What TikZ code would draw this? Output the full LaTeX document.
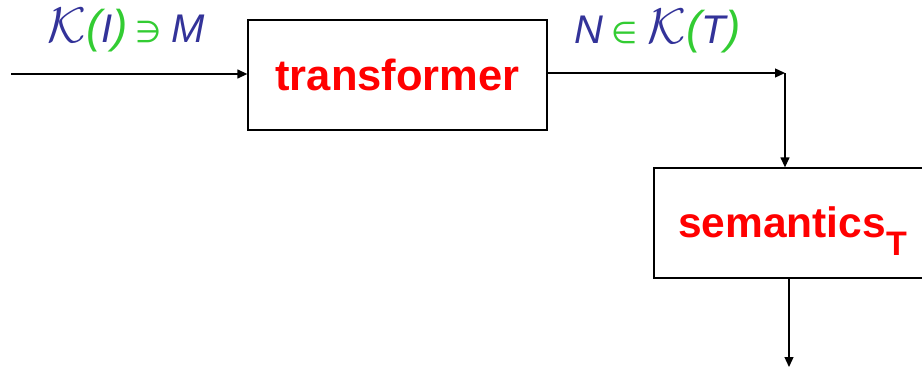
\RequirePackage{fix-cm}
\documentclass[tikz,border=0pt]{standalone}
\usepackage{fontspec}
\setmainfont{Liberation Sans}
\newfontfamily\symfont{DejaVu Sans}
\usetikzlibrary{arrows.meta}
\definecolor{lblue}{RGB}{51,51,153}
\definecolor{lgreen}{RGB}{51,204,51}
\definecolor{lred}{RGB}{255,0,0}
\newcommand{\calK}{{\fontsize{50}{54}\selectfont$\mathcal{K}$}}
\newcommand{\smallrel}[1]{{\fontsize{30}{32}\selectfont\symfont #1}}
\newcommand{\gparen}[1]{{\fontsize{46}{50}\selectfont\itshape\color{lgreen}#1}}
\begin{document}
\begin{tikzpicture}[x=1pt,y=1pt,
  conn/.style={line width=1.3pt,-{Triangle[length=10pt,width=9pt]}},
  boxnode/.style={draw,line width=1.3pt,inner sep=0pt},
  lbl/.style={inner sep=0pt,anchor=base west}]
\useasboundingbox (0,0) rectangle (922,-367);
\clip (0,0) rectangle (922,-367);
\node[boxnode,minimum width=299pt,minimum height=110pt] (tr) at (397.5,-75)
  {\fontsize{43.5}{48}\selectfont\bfseries\color{lred}transformer};
\node[boxnode,minimum width=284pt,minimum height=110pt] (sem) at (796,-223) {};
\node[inner sep=0pt,anchor=base west] (semtxt) at (678,-237)
  {\fontsize{42.5}{48}\selectfont\bfseries\color{lred}semantics\raisebox{-18pt}{\fontsize{34}{36}\selectfont T}};
\coordinate (in) at (11,-74);
\coordinate (corner) at (785,-73);
\coordinate (out) at (789,-367);
\draw[conn] (in) -- (tr.west |- in);
\draw[conn] (tr.east |- corner) -- (corner);
\draw[conn] (corner) -- (corner |- sem.north);
\draw[conn] (out |- sem.south) -- (out);
\node[lbl] (l1) at (47,-42) {\fontsize{40}{44}\selectfont
  {\color{lblue}\calK}\gparen{(}{\color{lblue}\itshape I}\gparen{)}\kern8pt{\color{lgreen}\smallrel{∋}}\kern10pt{\color{lblue}\itshape M}};
\node[lbl] (l2) at (574,-43) {\fontsize{40}{44}\selectfont
  {\color{lblue}\itshape N}\kern8pt{\color{lgreen}\smallrel{∈}}\kern10pt{\color{lblue}\calK}\gparen{(}{\color{lblue}\itshape T}\gparen{)}};
\end{tikzpicture}
\end{document}
